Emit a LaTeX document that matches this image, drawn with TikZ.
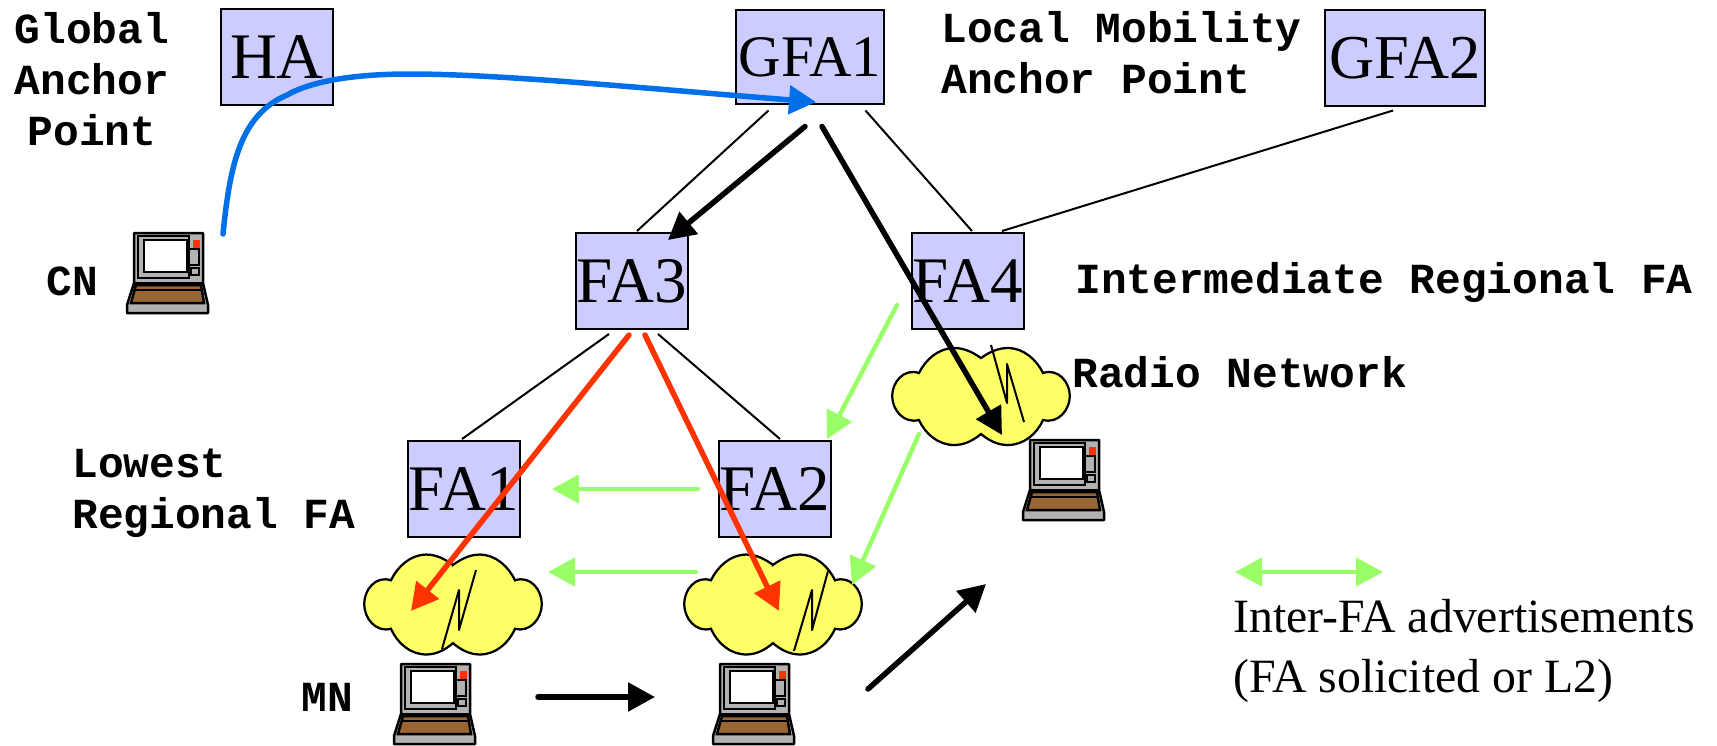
\documentclass[tikz,border=0pt]{standalone}
\usepackage{fontspec}
\setmainfont{Liberation Serif}
\setmonofont{Liberation Mono}
\usetikzlibrary{arrows.meta}
\definecolor{boxblue}{HTML}{CCCCFF}
\definecolor{cloudyellow}{HTML}{FFFF66}
\definecolor{advgreen}{HTML}{99FF66}
\definecolor{pathred}{HTML}{FF3300}
\definecolor{pathblue}{HTML}{0070E8}
\definecolor{keybrown}{HTML}{996633}
\definecolor{bodygray}{HTML}{B2B2B2}
\tikzset{
  pics/laptop/.style={code={
    \draw[line width=.05cm,fill=bodygray,line join=round] (7,0) -- (76,0) -- (76,50) -- (81,72) -- (81,80) -- (0,80) -- (0,72) -- (7,50) -- cycle;
    \draw[line width=.05cm] (7,50) -- (76,50);
    \draw[line width=.05cm,fill=keybrown] (9,52) -- (74,52) -- (77,70) -- (4,70) -- cycle;
    \draw[line width=.04cm] (8,57) -- (75,57);
    \draw[line width=.05cm] (11,3) rectangle (62,45);
    \draw[line width=.05cm,fill=white] (17,7) rectangle (60,39);
    \fill[pathred] (66,7) rectangle (73,15);
    \draw[line width=.03cm] (62,16) rectangle (72,32);
    \draw[line width=.03cm] (64,35) rectangle (72,42);
  }},
  pics/radiocloud/.style={code={
    \draw[line width=.045cm,fill=cloudyellow]
      (0,-38) .. controls (8,-44) and (16,-48) .. (25,-48)
      .. controls (40,-48) and (52,-36) .. (58,-23)
      .. controls (72,-28) and (83,-14) .. (83,0)
      .. controls (83,14) and (72,28) .. (58,24)
      .. controls (52,38) and (40,49) .. (25,49)
      .. controls (16,49) and (8,45) .. (0,38)
      .. controls (-8,45) and (-16,49) .. (-25,49)
      .. controls (-40,49) and (-52,38) .. (-58,24)
      .. controls (-72,28) and (-83,14) .. (-83,0)
      .. controls (-83,-14) and (-72,-28) .. (-58,-23)
      .. controls (-52,-36) and (-40,-48) .. (-25,-48)
      .. controls (-16,-48) and (-8,-44) .. cycle;
  }}
}
\begin{document}
\begin{tikzpicture}[x=.02cm,y=-.02cm]
\tikzstyle{fabox} = [draw=black,line width=.04cm,fill=boxblue,inner sep=0pt,font=\fontsize{37}{37}\selectfont]
\tikzstyle{lbl} = [inner sep=0pt,font=\fontsize{24.4}{29}\selectfont\ttfamily\bfseries]
\tikzstyle{txt} = [inner sep=0pt,font=\fontsize{27.2}{33.6}\selectfont]
\tikzstyle{link} = [black,line width=.04cm]
\tikzstyle{bolt} = [black,line width=.04cm,line join=round]
\tikzstyle{flow} = [line width=.11cm,line cap=round,-{Triangle[length=.54cm,width=.56cm]}]
\tikzstyle{adv} = [advgreen,line width=.09cm,line cap=round,-{Triangle[length=.54cm,width=.56cm]}]
\useasboundingbox (0,0) rectangle (1717,745);
\node[fabox,minimum width=2.24cm,minimum height=1.92cm] (ha) at (277,57) {HA};
\node[fabox,font=\fontsize{33.5}{34}\selectfont,minimum width=2.98cm,minimum height=1.9cm] (gfa1) at (810,57) {GFA1};
\node[fabox,font=\fontsize{35.5}{36}\selectfont,minimum width=3.2cm,minimum height=1.94cm] (gfa2) at (1405,58) {GFA2};
\node[fabox,minimum width=2.24cm,minimum height=1.92cm] (fa3) at (632,281) {FA3};
\node[fabox,minimum width=2.24cm,minimum height=1.92cm] (fa4) at (968,281) {FA4};
\node[fabox,minimum width=2.24cm,minimum height=1.92cm] (fa1) at (464,489) {FA1};
\node[fabox,minimum width=2.24cm,minimum height=1.92cm] (fa2) at (775,489) {FA2};
\draw[link] ([shift={(34,5)}]gfa1.south west) -- ([shift={(5,-1)}]fa3.north);
\draw[link] ([shift={(-20,5)}]gfa1.south east) -- ([shift={(4,-1)}]fa4.north);
\draw[link] ([shift={(-12,3)}]gfa2.south) -- ([shift={(34,-1)}]fa4.north);
\draw[link] ([shift={(-23,4)}]fa3.south) -- ([shift={(-2,-1)}]fa1.north);
\draw[link] ([shift={(26,4)}]fa3.south) -- ([shift={(5,-1)}]fa2.north);
\coordinate (cloud1) at (453,604);
\coordinate (cloud2) at (773,604);
\coordinate (cloud3) at (981,396);
\pic[xscale=1.07,yscale=1.03] at (cloud1) {radiocloud};
\pic[xscale=1.07,yscale=1.03] at (cloud2) {radiocloud};
\pic[xscale=1.07] at (cloud3) {radiocloud};
\draw[bolt] ([shift={(-11,45)}]cloud1) -- ([shift={(6,-14)}]cloud1) -- ([shift={(6,26)}]cloud1) -- ([shift={(23,-34)}]cloud1);
\draw[bolt] ([shift={(21,47)}]cloud2) -- ([shift={(39,-14)}]cloud2) -- ([shift={(39,26)}]cloud2) -- ([shift={(55,-33)}]cloud2);
\draw[bolt] ([shift={(10,-51)}]cloud3) -- ([shift={(26,7)}]cloud3) -- ([shift={(26,-32)}]cloud3) -- ([shift={(43,26)}]cloud3);
\coordinate (cn) at (127,233);
\coordinate (mn) at (394,664);
\coordinate (mnnext) at (713,664);
\coordinate (mnlast) at (1023,440);
\pic at (cn) {laptop};
\pic at (mn) {laptop};
\pic at (mnnext) {laptop};
\pic at (mnlast) {laptop};
\node[lbl,align=center] (global) at (92,79) {Global\\Anchor\\Point};
\node[lbl,align=left,anchor=west] (local) at (941,53) {Local Mobility\\Anchor Point};
\node[lbl,anchor=west] (cnlabel) at (46,281) {CN};
\node[lbl,anchor=west] (inter) at (1075,283) {Intermediate Regional FA};
\node[lbl,anchor=west] (radio) at (1072,372) {Radio Network};
\node[lbl,align=left,anchor=west] (lowest) at (72,493) {Lowest\\Regional FA};
\node[lbl,anchor=west] (mnlabel) at (301,697) {MN};
\node[txt,align=left,anchor=west] (note) at (1233,651) {Inter-FA advertisements\\(FA solicited or L2)};
\draw[adv] ([shift={(-71,-25)}]fa4.south) -- ([shift={(52,-1)}]fa2.north);
\draw[adv] ([shift={(-49,104)}]fa4.south) -- ([shift={(79,-19)}]cloud2);
\draw[adv] (fa2.west) ++(-20,0) -- ([shift={(31,0)}]fa1.east);
\draw[adv] ([shift={(-77,-32)}]cloud2) -- ([shift={(95,-32)}]cloud1);
\coordinate (legleft) at (1235,572);
\coordinate (legright) at (1383,572);
\draw[adv,{Triangle[length=.54cm,width=.56cm]}-{Triangle[length=.54cm,width=.56cm]}] (legleft) -- (legright);
\draw[pathred,flow] ([shift={(-3,5)}]fa3.south) -- ([shift={(-42,7)}]cloud1);
\draw[pathred,flow] ([shift={(13,5)}]fa3.south) -- ([shift={(6,7)}]cloud2);
\draw[black,flow] ([shift={(-5,21)}]gfa1.south) -- ([shift={(36,8)}]fa3.north);
\draw[black,flow] ([shift={(12,21)}]gfa1.south) -- ([shift={(21,39)}]cloud3);
\draw[black,flow] ([shift={(144,33)}]mn) -- ([shift={(-58,33)}]mnnext);
\draw[black,flow] ([shift={(155,25)}]mnnext) -- ([shift={(-37,144)}]mnlast);
\draw[pathblue,flow] ([shift={(96,1)}]cn) .. controls (230,165) and (240,115) .. (287,95) .. controls (310,82) and (350,74) .. (410,74) .. controls (500,74) and (640,88) .. ([shift={(6,45)}]gfa1.center);
\end{tikzpicture}
\end{document}
